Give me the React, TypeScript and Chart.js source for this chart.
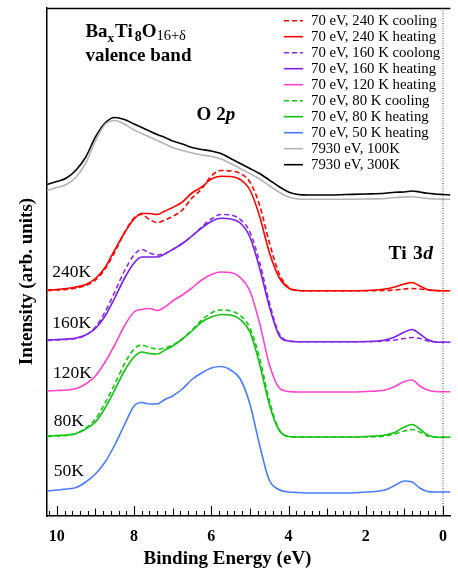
import React, { useEffect, useRef } from "react";
import { Chart, registerables } from "chart.js";

Chart.register(...registerables);

// Binding energy grid (eV)
const energies = [10.25, 10, 9.75, 9.5, 9.25, 9, 8.75, 8.5, 8.25, 8, 7.8, 7.6, 7.4, 7.2, 7, 6.75, 6.5, 6.25, 6, 5.75, 5.5, 5.25, 5, 4.75, 4.5, 4.25, 4, 3.75, 3.5, 3, 2.5, 2, 1.5, 1.25, 1, 0.8, 0.6, 0.4, 0.2, 0, -0.2];

// Intensities (arb. units, offset stacked as in the figure)
const red240Cool = [225.5, 226, 226.5, 228, 230.5, 236, 247, 264, 283, 298, 301.5, 296.5, 293.5, 296, 299.5, 306, 318, 327, 340, 345.5, 345, 342.5, 334, 311, 274, 243, 228.5, 225.7, 225.3, 225.3, 225.3, 225.3, 225.5, 226, 227, 227.5, 227, 226, 225.5, 225.3, 225.3];
const red240Heat = [226, 226.5, 227.5, 229, 231.5, 237.5, 248.5, 266, 283, 297, 302.5, 302.5, 301.5, 305, 308.5, 314, 323, 329, 337, 339.7, 339.5, 336.5, 326, 300, 264, 239, 228, 225.5, 225.3, 225.3, 225.3, 225.5, 227, 229, 232, 233.5, 230, 226.5, 225.5, 225.3, 225.3];
const purple160Cool = [175.5, 176, 176.5, 177.5, 181, 189, 204, 224, 245, 261, 266.5, 263, 261, 262.5, 266.5, 272.5, 280, 289, 297, 301.5, 301, 296.5, 284, 254, 214, 183, 175, 174.3, 174.3, 174.3, 174.3, 174.3, 175, 176, 177.5, 178.5, 177.5, 175, 174, 173.7, 173.7];
const purple160Heat = [176, 176.5, 177, 178, 181, 187.5, 200, 218, 237.5, 253, 259, 259, 259, 262, 266.5, 272.5, 280, 288, 294.5, 297.7, 297, 293, 279, 248, 210, 181, 175, 174.3, 174.3, 174.3, 174.3, 174.5, 176, 179, 184, 186.5, 182, 176.5, 174, 173.7, 173.7];
const magenta120Heat = [125, 125.5, 126, 127.5, 132, 140, 154, 171, 190, 204, 206.5, 207.5, 205.5, 209, 215, 221, 228, 236, 241.5, 244, 243.5, 238.5, 225, 193, 152, 128.5, 124.5, 124, 124, 124, 124, 124.5, 126, 129.5, 134.5, 136, 130, 126, 124.5, 124.3, 124.3];
const green80Cool = [79.5, 80, 80.5, 82.5, 88, 97, 113, 132, 152, 167, 171, 168.5, 167, 168, 171, 177, 186, 196, 203, 206, 205, 200.5, 188, 158, 116, 87, 79.5, 79, 79, 79, 79, 79, 80, 82, 85, 86.5, 84, 80, 79, 78.7, 78.7];
const green80Heat = [80, 80.5, 81, 82.5, 87, 94, 108, 126, 145, 159, 164, 162.5, 162, 166, 170, 177, 185, 194, 199, 201.5, 201, 196.5, 184, 152, 112, 86, 79.5, 79, 79, 79, 79, 79.5, 81, 83.5, 89, 91.5, 87, 81, 79, 78.7, 78.7];
const blue50Heat = [25, 26, 27, 28.5, 34, 42, 54, 71, 91, 110, 113.5, 112, 112, 116.5, 120, 127, 136.5, 143, 148, 149.5, 146, 137, 112, 71, 36, 26.5, 24, 23.5, 23, 23, 23, 24, 26, 30.5, 35, 34, 28, 24.5, 24, 24, 24];
const hax100K = [325.5, 328.5, 331.5, 339, 353, 375, 391.5, 395.5, 392, 386, 382.5, 379, 375.5, 372, 368.5, 365.5, 363, 361, 359.5, 357, 352.5, 347.5, 342.5, 337, 330.5, 324, 319, 317, 316.7, 316.7, 316.7, 317, 317.5, 318.5, 319, 319.3, 318.5, 317.5, 317, 316.7, 316.7];
const hax300K = [331.5, 334.5, 338, 346, 359, 379, 393, 398.5, 396.5, 392, 388.5, 385, 381.5, 378.5, 375, 372, 368.5, 366.5, 365, 362.5, 357.5, 352.5, 347.5, 342.5, 336, 329.5, 324, 321.5, 321, 321, 321.5, 322, 322.7, 323.7, 324, 325, 324, 322.7, 322, 321.5, 321];

const seriesLabels = [
  "70 eV, 240 K cooling",
  "70 eV, 240 K heating",
  "70 eV, 160 K coolong",
  "70 eV, 160 K heating",
  "70 eV, 120 K heating",
  "70 eV, 80 K cooling",
  "70 eV, 80 K heating",
  "70 eV, 50 K heating",
  "7930 eV, 100K",
  "7930 eV, 300K",
];
const seriesValues = [red240Cool, red240Heat, purple160Cool, purple160Heat, magenta120Heat, green80Cool, green80Heat, blue50Heat, hax100K, hax300K];
const seriesColors = ["#ff0000", "#ff0000", "#8a2be2", "#7a1fe8", "#ff44cc", "#14c814", "#14c014", "#4a7bff", "#b4b4b4", "#000000"];
const seriesDashed = [true, false, true, false, false, true, false, false, false, false];

const tempLabels = ["240K", "160K", "120K", "80K", "50K"];
const tempLabelPos = [[10.12, 239.3], [10.12, 188.3], [10.1, 137.7], [10.08, 90.3], [10.08, 40]];

const FONT = "'Liberation Serif', 'Times New Roman', Times, serif";

type Run = { t: string; size: number; weight?: string; style?: string; dy?: number; dx?: number };

function drawRuns(ctx: CanvasRenderingContext2D, x: number, y: number, runs: Run[]) {
  let cx = x;
  for (const r of runs) {
    ctx.font = `${r.style || "normal"} ${r.weight || "normal"} ${r.size}px ${FONT}`;
    cx += r.dx || 0;
    ctx.fillText(r.t, cx, y + (r.dy || 0));
    cx += ctx.measureText(r.t).width;
  }
}

const decorPlugin = {
  id: "decor",
  afterDraw(chart: any) {
    const { ctx, chartArea } = chart;
    const xs = chart.scales.x;
    const ys = chart.scales.y;
    const { left, right, top, bottom } = chartArea;
    ctx.save();
    ctx.fillStyle = "#000";
    ctx.strokeStyle = "#000";

    // top frame line
    ctx.lineWidth = 1.3;
    ctx.beginPath();
    ctx.moveTo(left, top + 0.5);
    ctx.lineTo(right, top + 0.5);
    ctx.stroke();

    // dotted line at E = 0
    const x0 = xs.getPixelForValue(0);
    ctx.lineWidth = 1;
    ctx.setLineDash([1, 1.5]);
    ctx.strokeStyle = "#444";
    ctx.beginPath();
    ctx.moveTo(x0, top);
    ctx.lineTo(x0, bottom);
    ctx.stroke();
    ctx.setLineDash([]);
    ctx.strokeStyle = "#000";

    // inward ticks every 0.2 eV
    ctx.lineWidth = 1.1;
    for (let k = 0; k <= 51; k++) {
      const v = k * 0.2;
      const px = Math.round(xs.getPixelForValue(v)) + 0.5;
      if (px < left || px > right) continue;
      const len = k % 10 === 0 ? 10 : k % 5 === 0 ? 7.5 : 5;
      ctx.beginPath();
      ctx.moveTo(px, bottom);
      ctx.lineTo(px, bottom - len);
      ctx.stroke();
    }

    // axis titles
    ctx.textAlign = "center";
    ctx.textBaseline = "alphabetic";
    ctx.font = `bold 19px ${FONT}`;
    ctx.fillText("Binding Energy (eV)", xs.getPixelForValue(5.58), bottom + 48);
    ctx.save();
    ctx.translate(left - 15.5, ys.getPixelForValue(234.5));
    ctx.rotate(-Math.PI / 2);
    ctx.fillText("Intensity (arb. units)", 0, 0);
    ctx.restore();

    // annotations
    ctx.textAlign = "left";
    drawRuns(ctx, xs.getPixelForValue(9.26), ys.getPixelForValue(478.7), [
      { t: "Ba", size: 19, weight: "bold" },
      { t: "x", size: 13, weight: "bold", dy: 5 },
      { t: "Ti", size: 19, weight: "bold", dx: 1 },
      { t: "8", size: 14, weight: "bold", dy: 4, dx: 2 },
      { t: "O", size: 19, weight: "bold" },
      { t: "16+δ", size: 14.5, dy: 3 },
    ]);
    drawRuns(ctx, xs.getPixelForValue(9.26), ys.getPixelForValue(455.3), [
      { t: "valence band", size: 19, weight: "bold" },
    ]);
    drawRuns(ctx, xs.getPixelForValue(6.38), ys.getPixelForValue(396), [
      { t: "O 2", size: 19, weight: "bold" },
      { t: "p", size: 19, weight: "bold", style: "italic" },
    ]);
    drawRuns(ctx, xs.getPixelForValue(1.41), ys.getPixelForValue(257), [
      { t: "Ti", size: 19.5, weight: "bold" },
      { t: " 3", size: 19.5, weight: "bold", dx: 1.5 },
      { t: "d", size: 19.5, weight: "bold", style: "italic", dx: 0.5 },
    ]);
    tempLabels.forEach((t, i) => {
      drawRuns(ctx, xs.getPixelForValue(tempLabelPos[i][0]), ys.getPixelForValue(tempLabelPos[i][1]), [
        { t, size: 17.5 },
      ]);
    });

    // legend
    const ds = chart.data.datasets;
    ctx.font = `normal 14.8px ${FONT}`;
    ctx.textBaseline = "middle";
    ds.forEach((d: any, i: number) => {
      const y = top + 12.7 + i * 16;
      ctx.strokeStyle = d.borderColor;
      ctx.lineWidth = 1.6;
      ctx.setLineDash(d.borderDash || []);
      ctx.beginPath();
      ctx.moveTo(284, y);
      ctx.lineTo(303, y);
      ctx.stroke();
      ctx.setLineDash([]);
      ctx.fillStyle = "#000";
      ctx.fillText(d.label, 311, y);
    });
    ctx.restore();
  },
};

export default function App() {
  const ref = useRef<HTMLCanvasElement | null>(null);
  useEffect(() => {
    if (!ref.current) return;
    const datasets = seriesLabels.map((label, i) => ({
      label,
      data: energies.map((e, j) => ({ x: e, y: seriesValues[i][j] })),
      borderColor: seriesColors[i],
      backgroundColor: seriesColors[i],
      borderWidth: 1.6,
      borderDash: seriesDashed[i] ? [5, 3] : [],
      pointRadius: 0,
      fill: false,
      cubicInterpolationMode: "monotone" as const,
    }));
    const chart = new Chart(ref.current, {
      type: "line",
      data: { datasets },
      options: {
        animation: false,
        responsive: true,
        maintainAspectRatio: false,
        layout: { padding: { top: 8, right: 0, left: 0, bottom: 0 } },
        plugins: { legend: { display: false }, tooltip: { enabled: false }, title: { display: false } },
        scales: {
          x: {
            type: "linear",
            reverse: true,
            min: -0.19,
            max: 10.254,
            afterFit: (s: any) => {
              s.height = 52;
            },
            grid: { display: false, drawTicks: false },
            border: { display: true, color: "#000", width: 1.4 },
            ticks: {
              stepSize: 2,
              includeBounds: false,
              autoSkip: false,
              maxRotation: 0,
              padding: 11,
              color: "#000",
              font: { family: FONT, size: 16, weight: "bold" },
              callback: (v: any) => String(Math.round(Number(v))),
            },
          },
          y: {
            type: "linear",
            min: 0,
            max: 508,
            afterFit: (s: any) => {
              s.width = 47;
            },
            grid: { display: false, drawTicks: false },
            border: { display: true, color: "#000", width: 1.5 },
            ticks: { display: false },
          },
        },
      },
      plugins: [decorPlugin],
    });
    return () => chart.destroy();
  }, []);
  return (
    <div style={{ position: "fixed", left: 0, top: 0, width: 458, height: 568, background: "#fff" }}>
      <canvas ref={ref} />
    </div>
  );
}
